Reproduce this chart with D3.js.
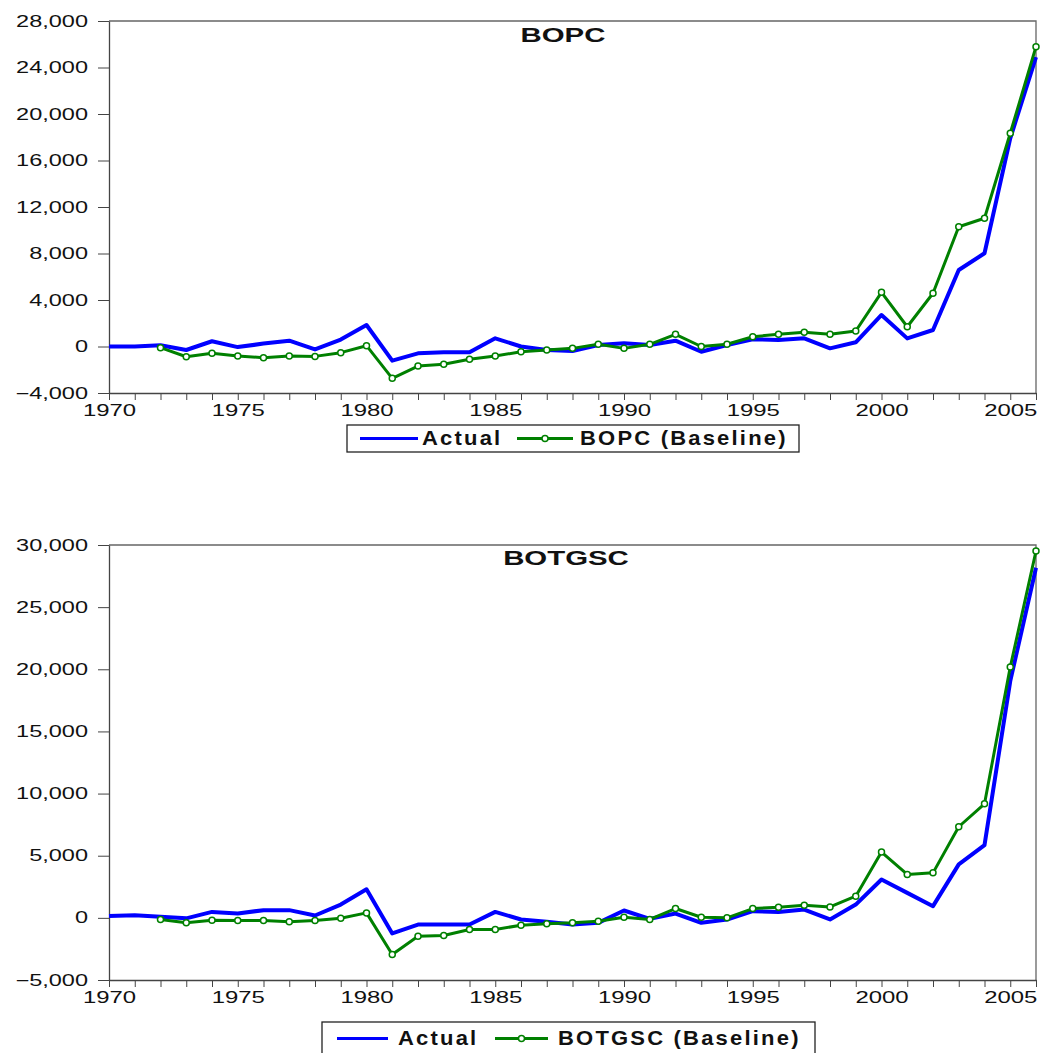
<!DOCTYPE html>
<html>
<head>
<meta charset="utf-8">
<script src="https://cdn.jsdelivr.net/npm/d3@7"></script>
<style>
  body { margin: 0; background: #fff; }
  text { font-family: "Liberation Sans", Arial, sans-serif; fill: #111; }
</style>
</head>
<body>
<svg id="chart" width="1044" height="1053"></svg>
<script>
// Annual observations, 1970-2006
const years = [1970,1971,1972,1973,1974,1975,1976,1977,1978,1979,
               1980,1981,1982,1983,1984,1985,1986,1987,1988,1989,
               1990,1991,1992,1993,1994,1995,1996,1997,1998,1999,
               2000,2001,2002,2003,2004,2005,2006];

// Balance of payments, current account
const bopcActual = [0, 0, 100, -300, 450, -50, 250, 500, -250, 600,
                    1850, -1220, -590, -500, -500, 700, 0, -300, -390, 130,
                    270, 130, 500, -450, 130, 620, 560, 700, -160, 360,
                    2710, 700, 1420, 6580, 8020, 17900, 24900];
const bopcBaseline = [null, null, -100, -880, -590, -820, -960, -820, -850, -530,
                      70, -2740, -1680, -1530, -1100, -820, -450, -300, -160, 190,
                      -160, 190, 1050, 0, 190, 840, 1050, 1220, 1050, 1330,
                      4660, 1700, 4580, 10300, 11030, 18340, 25790];

// Balance of trade in goods and services
const botgscActual = [150, 215, 80, -40, 480, 350, 620, 620, 190, 1070,
                      2300, -1250, -540, -540, -540, 480, -130, -320, -540, -400,
                      590, -80, 350, -400, -130, 540, 480, 670, -130, 1070,
                      3090, 2010, 940, 4300, 5850, 19050, 28170];
const botgscBaseline = [null, null, -130, -400, -190, -210, -210, -320, -210, -30,
                        400, -2950, -1480, -1420, -940, -940, -590, -480, -400, -270,
                        50, -130, 750, 50, 0, 750, 860, 1020, 880, 1740,
                        5290, 3490, 3620, 7330, 9180, 20180, 29520];

const bopcTicks = [-4000, 0, 4000, 8000, 12000, 16000, 20000, 24000, 28000];
const botgscTicks = [-5000, 0, 5000, 10000, 15000, 20000, 25000, 30000];
const yearLabelStep = 5;

const seriesNames = {
  actual: "Actual",
  bopc: "BOPC (Baseline)",
  botgsc: "BOTGSC (Baseline)"
};

const BLUE = "#0000ff";
const GREEN = "#008000";
const fmt = d3.format(",");

const svg = d3.select("#chart");

// Horizontally stretch a text element about its own anchor x
function stretch(sel, sx) {
  sel.each(function () {
    const t = d3.select(this);
    const x = +t.attr("x") || 0;
    t.attr("transform", `translate(${x},0) scale(${sx},1) translate(${-x},0)`);
  });
}

const panels = [
  {
    title: "BOPC", label: seriesNames.bopc,
    actual: bopcActual, baseline: bopcBaseline, ticks: bopcTicks,
    top: 21, bottom: 393, titleX: 563, titleY: 42,
    legend: { x: 347, y: 425, w: 452, h: 27, line1: [360, 418], text1: 422,
              line2: [517, 573], text2: 580, lineY: 438.5, baseY: 445 }
  },
  {
    title: "BOTGSC", label: seriesNames.botgsc,
    actual: botgscActual, baseline: botgscBaseline, ticks: botgscTicks,
    top: 545, bottom: 980, titleX: 566, titleY: 565,
    legend: { x: 322, y: 1022, w: 493, h: 40, line1: [337, 388], text1: 398,
              line2: [495, 548], text2: 558, lineY: 1038.5, baseY: 1045 }
  }
];

const left = 109, right = 1036;

panels.forEach(p => {
  const x = d3.scaleLinear().domain([years[0], years[years.length - 1]]).range([left, right]);
  const y = d3.scaleLinear().domain([p.ticks[0], p.ticks[p.ticks.length - 1]]).range([p.bottom, p.top]);

  const g = svg.append("g");

  // frame (top and right edges)
  g.append("path")
    .attr("d", `M${left},${p.top}H${right}V${p.bottom}`)
    .attr("fill", "none").attr("stroke", "#666").attr("stroke-width", 1.3);

  // y axis
  const yAxis = g.append("g")
    .attr("transform", `translate(${left},0)`)
    .call(d3.axisLeft(y).tickValues(p.ticks).tickFormat(fmt).tickSize(11).tickPadding(10).tickSizeOuter(0));
  yAxis.select(".domain").attr("stroke", "#444").attr("stroke-width", 1.3);
  yAxis.selectAll(".tick line").attr("stroke", "#444");
  yAxis.selectAll("text").attr("font-size", 16).attr("fill", "#111")
    .style("font-family", '"Liberation Sans", Arial, sans-serif');
  stretch(yAxis.selectAll("text"), 1.47);

  // x axis
  const xAxis = g.append("g")
    .attr("transform", `translate(0,${p.bottom})`)
    .call(d3.axisBottom(x).tickValues(years)
      .tickFormat(d => d % yearLabelStep === 0 ? String(d) : "")
      .tickSize(7).tickPadding(4).tickSizeOuter(0));
  xAxis.select(".domain").attr("stroke", "#444").attr("stroke-width", 1.3);
  xAxis.selectAll(".tick line").attr("stroke", "#444");
  xAxis.selectAll("text").attr("font-size", 16.5).attr("fill", "#111")
    .style("font-family", '"Liberation Sans", Arial, sans-serif');
  stretch(xAxis.selectAll("text"), 1.45);

  // title
  const title = g.append("text")
    .attr("x", p.titleX).attr("y", p.titleY)
    .attr("text-anchor", "middle")
    .attr("font-size", 21).attr("font-weight", "bold")
    .text(p.title);
  stretch(title, 1.4);

  // series
  const line = d3.line()
    .defined(d => d.v !== null)
    .x(d => x(d.year)).y(d => y(d.v));

  const actualPts = years.map((yr, i) => ({ year: yr, v: p.actual[i] }));
  const basePts = years.map((yr, i) => ({ year: yr, v: p.baseline[i] }));

  g.append("path").datum(actualPts)
    .attr("d", line).attr("fill", "none")
    .attr("stroke", BLUE).attr("stroke-width", 4).attr("stroke-linejoin", "round");

  g.append("path").datum(basePts)
    .attr("d", line).attr("fill", "none")
    .attr("stroke", GREEN).attr("stroke-width", 3).attr("stroke-linejoin", "round");

  g.selectAll("circle.mk").data(basePts.filter(d => d.v !== null))
    .enter().append("circle").attr("class", "mk")
    .attr("cx", d => x(d.year)).attr("cy", d => y(d.v)).attr("r", 3)
    .attr("fill", "#fff").attr("stroke", GREEN).attr("stroke-width", 1.5);

  // legend
  const L = p.legend;
  const lg = svg.append("g");
  lg.append("rect").attr("x", L.x).attr("y", L.y).attr("width", L.w).attr("height", L.h)
    .attr("fill", "#fff").attr("stroke", "#222").attr("stroke-width", 1.3);
  lg.append("line").attr("x1", L.line1[0]).attr("x2", L.line1[1])
    .attr("y1", L.lineY).attr("y2", L.lineY)
    .attr("stroke", BLUE).attr("stroke-width", 3);
  lg.append("line").attr("x1", L.line2[0]).attr("x2", L.line2[1])
    .attr("y1", L.lineY).attr("y2", L.lineY)
    .attr("stroke", GREEN).attr("stroke-width", 3);
  lg.append("circle").attr("cx", (L.line2[0] + L.line2[1]) / 2).attr("cy", L.lineY).attr("r", 3)
    .attr("fill", "#fff").attr("stroke", GREEN).attr("stroke-width", 1.5);
  const t1 = lg.append("text").attr("x", L.text1).attr("y", L.baseY)
    .attr("font-size", 20).attr("font-weight", "bold").attr("letter-spacing", 2)
    .text(seriesNames.actual);
  const t2 = lg.append("text").attr("x", L.text2).attr("y", L.baseY)
    .attr("font-size", 20).attr("font-weight", "bold").attr("letter-spacing", 2)
    .text(p.label);
  stretch(t1, 1.1);
  stretch(t2, 1.1);
});
</script>
</body>
</html>
